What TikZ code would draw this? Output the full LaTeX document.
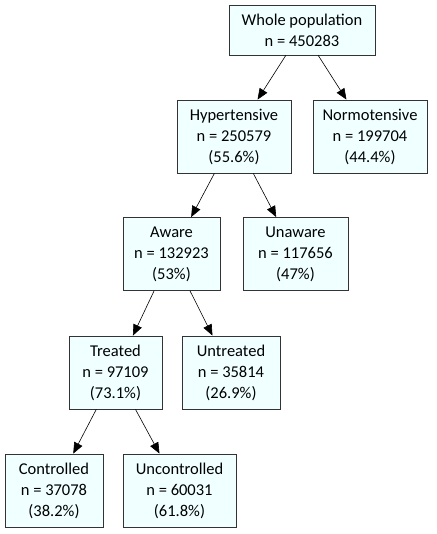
\documentclass[tikz,border=0pt]{standalone}
\usepackage{fontspec}
\setmainfont{Carlito}
\usetikzlibrary{arrows.meta}
\definecolor{boxfill}{HTML}{F0FFFF}
\definecolor{boxline}{HTML}{333333}
\tikzset{%
  group/.style={rectangle,draw=boxline,fill=boxfill,thick,align=center,
    inner xsep=6pt,inner ysep=0pt,minimum height=#1,
    font=\fontsize{16.5}{21}\selectfont},
  group/.default=73pt,
  pre/.style={<-,>={Triangle[length=11pt,width=9pt]},semithick}
}

\begin{document}
\begin{tikzpicture}[x=1pt,y=-1pt]
      \useasboundingbox (0,0) rectangle (436,534);

      \node [group=50pt,minimum width=146pt] (whole) at (302,30)    {Whole population\\n = 450283};

      \node [group,minimum width=114pt] (hyper)  at (234,136.5) {Hypertensive\\n = 250579\\(55.6\%)} edge [pre] (whole);
      \node [group,minimum width=114pt] (normo)  at (370,136.5) {Normotensive\\n = 199704\\(44.4\%)} edge [pre] (whole);

      \node [group,minimum width=97pt]  (aware)  at (171.5,254) {Aware\\n = 132923\\(53\%)} edge [pre] (hyper);
      \node [group,minimum width=105pt] (unaware) at (295.5,254) {Unaware\\n = 117656\\(47\%)} edge [pre] (hyper);

      \node [group,minimum width=93pt]  (treat)  at (115.5,372.5) {Treated\\n = 97109\\(73.1\%)} edge [pre] (aware);
      \node [group,minimum width=98pt]  (untreat) at (231,372.5) {Untreated\\n = 35814\\(26.9\%)} edge [pre] (aware);

      \node [group,minimum width=98pt]  (ctrl)   at (54,490.5)  {Controlled\\n = 37078\\(38.2\%)} edge [pre] (treat);
      \node [group,minimum width=113pt] (unctrl) at (179.5,490.5) {Uncontrolled\\n = 60031\\(61.8\%)} edge [pre] (treat);
\end{tikzpicture}
\end{document}
